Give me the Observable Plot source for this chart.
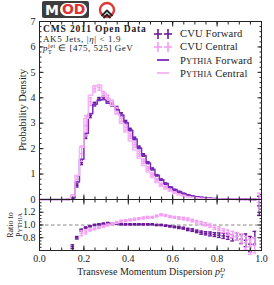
<!DOCTYPE html>
<html><head><meta charset="utf-8">
<script src="https://cdn.jsdelivr.net/npm/d3@7"></script>
<script src="https://cdn.jsdelivr.net/npm/@observablehq/plot@0.6"></script>
<style>
body{margin:0;background:#fff;}
#wrap{position:relative;width:274px;height:285px;font-family:"Liberation Serif",serif;overflow:hidden;color:#222}
#wrap svg{position:absolute;left:0;}
.abs{position:absolute;white-space:nowrap;}
.rot{transform:translate(-50%,-50%) rotate(-90deg);}
.ss{display:inline-block;vertical-align:-0.38em;line-height:0.85;font-size:68%;text-align:left;}
.ss span{display:block;}
.sc{font-size:78%;}
.lg{position:absolute;left:153px;height:13px;display:flex;align-items:center;font-size:10.6px;letter-spacing:0.15px;}
.lg svg{position:static !important;margin-right:7px;}
.info div{height:9.6px;line-height:9.6px;}
</style></head><body><div id="wrap">
<div class="abs" style="left:42px;top:1px;height:17px;display:flex;align-items:center;">
  <div style="background:#3d3d3d;border-radius:2px;height:17px;display:flex;align-items:center;padding:0 2px 0 3px;font-family:'DejaVu Sans',sans-serif;font-weight:bold;font-size:14px;">
    <span style="color:#fff;">M</span><span style="background:#fff;color:#d33;border-radius:7px;padding:0 2px;margin-left:1px;line-height:13px;">OD</span>
  </div>
  <svg width="18" height="18" viewBox="0 0 18 18" style="position:static;margin-left:9px;">
    <circle cx="9" cy="9" r="7" fill="none" stroke="#e03a3a" stroke-width="2.4"/>
    <path d="M3.5,15 L9,9.5 L14.5,15 M5.5,17 L9,13.5 L12.5,17" fill="none" stroke="#222" stroke-width="1.8"/>
  </svg>
</div>
<div id="main"></div>
<div id="ratio"></div>
<div class="abs info" style="left:43px;top:25px;">
  <div style="font-weight:bold;font-size:9.5px;letter-spacing:0.85px;">CMS 2011 Open Data</div>
  <div style="font-size:9px;letter-spacing:0.6px;">AK5 Jets, |<i>η</i>| &lt; 1.9</div>
  <div style="font-size:9px;letter-spacing:0.5px;"><i>p</i><span class="ss"><span>jet</span><span>T</span></span> ∈ [475, 525] GeV</div>
</div>
<div id="legend"></div>
<div class="abs rot" style="left:22px;top:110px;font-size:10.5px;">Probability Density</div>
<div class="abs rot" style="left:10px;top:225px;font-size:8px;">Ratio to</div>
<div class="abs rot" style="left:19px;top:225px;font-size:8px;">P<span class="sc">YTHIA</span></div>
<div class="abs" style="left:151px;top:272px;transform:translate(-50%,-50%);font-size:10px;">Transvese Momentum Dispersion <i>p</i><span class="ss"><span><i>D</i></span><span><i>T</i></span></span></div>
</div>
<script>
// ---- data ----
const binLo = [0.00,0.02,0.04,0.06,0.08,0.10,0.12,0.14,0.16,0.18,0.20,0.22,0.24,0.26,0.28,0.30,0.32,0.34,0.36,0.38,0.40,0.42,0.44,0.46,0.48,0.50,0.52,0.54,0.56,0.58,0.60,0.62,0.64,0.66,0.68,0.70,0.72,0.74,0.76,0.78,0.80,0.82,0.84,0.86,0.88,0.90,0.92,0.94,0.96,0.98];
const binW = 0.02;
const cvuForward = [0,0,0,0,0,0,0,0.04,0.55,1.45,2.5,3.3,3.75,3.95,4.0,3.9,3.75,3.6,3.35,3.05,2.75,2.4,2.05,1.75,1.45,1.2,0.95,0.78,0.62,0.48,0.38,0.3,0.23,0.17,0.13,0.1,0.075,0.055,0.04,0.03,0.022,0.016,0.012,0.009,0.007,0.005,0.004,0.003,0.003,0.02];
const cvuForwardErr = [0,0,0,0,0,0,0,0.02,0.06,0.08,0.1,0.08,0.07,0.06,0.06,0.06,0.06,0.06,0.06,0.06,0.05,0.05,0.05,0.05,0.04,0.04,0.03,0.03,0.03,0.02,0.02,0.02,0.015,0.012,0.01,0.008,0.006,0.005,0.004,0.004,0.003,0.003,0.002,0.002,0.002,0.002,0.002,0.002,0.002,0.01];
const pythiaForward = [0,0,0,0,0,0,0,0.06,0.69,1.58,2.6,3.37,3.75,3.91,3.92,3.79,3.68,3.53,3.32,3.02,2.72,2.38,2.03,1.73,1.44,1.19,0.95,0.78,0.63,0.49,0.39,0.31,0.24,0.18,0.14,0.11,0.085,0.063,0.047,0.035,0.026,0.019,0.015,0.011,0.0085,0.0065,0.0053,0.0043,0.0037,0.015];
const cvuCentral = [0,0,0,0,0,0,0.01,0.13,0.8,1.8,2.9,3.85,4.35,4.4,4.15,4.0,3.8,3.5,3.2,2.85,2.5,2.15,1.8,1.5,1.22,0.98,0.77,0.6,0.47,0.36,0.28,0.21,0.16,0.12,0.09,0.068,0.05,0.037,0.027,0.02,0.015,0.011,0.008,0.006,0.0045,0.0035,0.0025,0.002,0.0015,0.03];
const cvuCentralErr = [0,0,0,0,0,0,0.01,0.05,0.12,0.3,0.4,0.15,0.12,0.1,0.1,0.1,0.1,0.12,0.12,0.12,0.1,0.1,0.1,0.08,0.07,0.06,0.05,0.04,0.035,0.03,0.025,0.02,0.015,0.012,0.01,0.008,0.006,0.005,0.004,0.004,0.003,0.003,0.002,0.002,0.002,0.002,0.002,0.002,0.002,0.01];
const pythiaCentral = [0,0,0,0,0,0,0.01,0.15,0.95,2.05,3.2,4.1,4.45,4.5,4.2,3.95,3.7,3.35,3.0,2.65,2.3,1.95,1.62,1.34,1.08,0.87,0.67,0.51,0.41,0.32,0.25,0.19,0.145,0.11,0.084,0.065,0.049,0.037,0.028,0.021,0.016,0.012,0.009,0.007,0.0055,0.0045,0.0035,0.003,0.002,0.022];
const ratioForward = [null,null,null,null,null,null,null,0.66,0.8,0.92,0.96,0.98,1.0,1.01,1.02,1.03,1.02,1.02,1.01,1.01,1.01,1.01,1.01,1.01,1.01,1.01,1.0,1.0,0.99,0.98,0.97,0.96,0.95,0.93,0.92,0.9,0.88,0.87,0.86,0.85,0.84,0.83,0.82,0.8,0.82,0.78,0.76,0.7,0.8,1.3];
const ratioForwardErr = [0,0,0,0,0,0,0,0.03,0.02,0.015,0.01,0.01,0.01,0.01,0.01,0.01,0.01,0.01,0.01,0.01,0.01,0.01,0.01,0.01,0.01,0.01,0.01,0.01,0.01,0.012,0.012,0.015,0.015,0.018,0.02,0.02,0.025,0.025,0.03,0.03,0.035,0.04,0.045,0.05,0.06,0.07,0.1,0.12,0.1,0.15];
const ratioCentral = [null,null,null,null,null,null,null,null,null,0.87,0.89,0.92,0.94,0.96,0.98,1.0,1.02,1.04,1.06,1.07,1.08,1.09,1.1,1.11,1.12,1.12,1.14,1.16,1.15,1.13,1.12,1.11,1.1,1.09,1.07,1.05,1.03,1.01,0.99,0.96,0.94,0.91,0.88,0.85,0.82,0.78,0.72,0.66,0.68,1.35];
const ratioCentralErr = [0,0,0,0,0,0,0,0,0,0.04,0.03,0.015,0.015,0.015,0.015,0.015,0.015,0.015,0.015,0.015,0.015,0.015,0.015,0.015,0.015,0.015,0.015,0.015,0.015,0.015,0.015,0.02,0.02,0.02,0.02,0.02,0.025,0.025,0.025,0.03,0.03,0.03,0.04,0.05,0.06,0.08,0.1,0.12,0.12,0.15];
const xTicks = [0, 0.2, 0.4, 0.6, 0.8, 1.0];
const yTicks = [0, 1, 2, 3, 4, 5, 6, 7];
const ratioTicks = [0.8, 1.0, 1.2];
const ratioRef = [1];
const seriesNames = ["CVU Forward", "CVU Central", "Pythia Forward", "Pythia Central"];

// ---- style ----
const C = {cvuF: "#6a1b9a", cvuC: "#f49ef4", pyF: "#7b2cbf", pyC: "#f7b3f7"};
const axisColor = "#222";
const fontStyle = {fontFamily: "Liberation Serif, serif", fontSize: "10px", background: "transparent", overflow: "visible", color: axisColor};

function points(vals, errs) {
  return binLo.map((lo, i) => ({lo, hi: lo + binW, mid: lo + binW / 2, v: vals[i], e: errs[i]}))
    .filter(d => d.v != null && d.v > 0);
}
function steps(vals) {
  const pts = binLo.map((lo, i) => ({x: lo, y: vals[i]}));
  pts.push({x: binLo[binLo.length - 1] + binW, y: vals[vals.length - 1]});
  return pts;
}
function errMarks(data, color, sw) {
  const o = {stroke: color, strokeWidth: sw, insetLeft: 0.4, insetRight: 0.4};
  return [
    Plot.ruleY(data, {y: "v", x1: "lo", x2: "hi", ...o}),
    Plot.ruleY(data, {y: d => d.v + d.e, x1: "lo", x2: "hi", ...o}),
    Plot.ruleY(data, {y: d => d.v - d.e, x1: "lo", x2: "hi", ...o}),
    Plot.ruleX(data, {x: "mid", y1: d => d.v - d.e, y2: d => d.v + d.e, stroke: color, strokeWidth: sw})
  ];
}
function frameTicks(xMinor, yMinor, yMajor, labelY) {
  const tc = {stroke: axisColor};
  return [
    Plot.axisX(xTicks, {anchor: "bottom", tickSize: 4.5, dy: -4.5, tickFormat: () => "", label: null, ...tc}),
    Plot.axisX(xMinor, {anchor: "bottom", tickSize: 2.5, dy: -2.5, tickFormat: () => "", label: null, ...tc}),
    Plot.axisX(xTicks, {anchor: "top", tickSize: 4.5, dy: 4.5, tickFormat: () => "", label: null, ...tc}),
    Plot.axisX(xMinor, {anchor: "top", tickSize: 2.5, dy: 2.5, tickFormat: () => "", label: null, ...tc}),
    Plot.axisY(yMajor, {anchor: "left", tickSize: 4.5, dx: 4.5, tickFormat: () => "", label: null, ...tc}),
    Plot.axisY(yMinor, {anchor: "left", tickSize: 2.5, dx: 2.5, tickFormat: () => "", label: null, ...tc}),
    Plot.axisY(yMajor, {anchor: "right", tickSize: 4.5, dx: -4.5, tickFormat: () => "", label: null, ...tc}),
    Plot.axisY(yMinor, {anchor: "right", tickSize: 2.5, dx: -2.5, tickFormat: () => "", label: null, ...tc}),
    Plot.axisY(labelY, {anchor: "left", tickSize: 0, tickPadding: 4, label: null, fill: axisColor, fontSize: 10, tickFormat: labelY === yTicks ? (d => String(d)) : d3.format(".1f")})
  ];
}
const xMinor = d3.range(0, 1.0001, 0.05);

const mainPlot = Plot.plot({
  width: 274, height: 200,
  marginLeft: 39, marginRight: 13, marginTop: 21, marginBottom: 1,
  style: fontStyle,
  x: {domain: [0, 1]},
  y: {domain: [0, 7]},
  marks: [
    ...errMarks(points(cvuForward, cvuForwardErr), C.cvuF, 1.4),
    ...errMarks(points(cvuCentral, cvuCentralErr), C.cvuC, 1.4),
    Plot.line(steps(pythiaForward), {x: "x", y: "y", curve: "step-after", stroke: C.pyF, strokeWidth: 1.5}),
    Plot.line(steps(pythiaCentral), {x: "x", y: "y", curve: "step-after", stroke: C.pyC, strokeWidth: 1.5}),
    ...frameTicks(xMinor, d3.range(0, 7.0001, 0.2), yTicks, yTicks),
    Plot.frame({stroke: axisColor, strokeWidth: 1})
  ]
});
mainPlot.style.top = "0px";
document.getElementById("main").append(mainPlot);

const ratioPlot = Plot.plot({
  width: 274, height: 87,
  marginLeft: 39, marginRight: 13, marginTop: 1, marginBottom: 35,
  style: fontStyle,
  x: {domain: [0, 1]},
  y: {domain: [0.6, 1.4]},
  marks: [
    Plot.ruleY(ratioRef, {stroke: "#888", strokeDasharray: "3.5,2.5", strokeWidth: 1}),
    ...errMarks(points(ratioForward, ratioForwardErr), C.cvuF, 1.4),
    ...errMarks(points(ratioCentral, ratioCentralErr), C.cvuC, 1.4),
    ...frameTicks(xMinor, d3.range(0.6, 1.4001, 0.05), [0.6, 0.8, 1.0, 1.2, 1.4], ratioTicks),
    Plot.axisX(xTicks, {anchor: "bottom", tickSize: 0, tickPadding: 4, label: null, tickFormat: d3.format(".1f"), fill: axisColor, fontSize: 10}),
    Plot.frame({stroke: axisColor, strokeWidth: 1})
  ]
});
ratioPlot.style.top = "198px";
document.getElementById("ratio").append(ratioPlot);

// ---- legend ----
const legendItems = [
  {name: seriesNames[0], color: C.cvuF, kind: "err"},
  {name: seriesNames[1], color: C.cvuC, kind: "err"},
  {name: seriesNames[2], color: C.pyF, kind: "line"},
  {name: seriesNames[3], color: C.pyC, kind: "line"}
];
const lg = document.getElementById("legend");
legendItems.forEach((it, k) => {
  const row = document.createElement("div");
  row.className = "lg";
  row.style.top = (27 + k * 13.3) + "px";
  const icon = it.kind === "err"
    ? `<svg width="20" height="12"><g stroke="${it.color}" stroke-width="1.6"><line x1="1" x2="9" y1="6" y2="6"/><line x1="5" x2="5" y1="1" y2="11"/><line x1="11" x2="19" y1="6" y2="6"/><line x1="15" x2="15" y1="1" y2="11"/></g></svg>`
    : `<svg width="20" height="12"><line x1="4" x2="16" y1="6" y2="6" stroke="${it.color}" stroke-width="1.8"/></svg>`;
  const label = it.name.startsWith("Pythia")
    ? `P<span class="sc">YTHIA</span>${it.name.slice(6)}`
    : it.name;
  row.innerHTML = icon + `<span>${label}</span>`;
  lg.append(row);
});
</script>
</body></html>
